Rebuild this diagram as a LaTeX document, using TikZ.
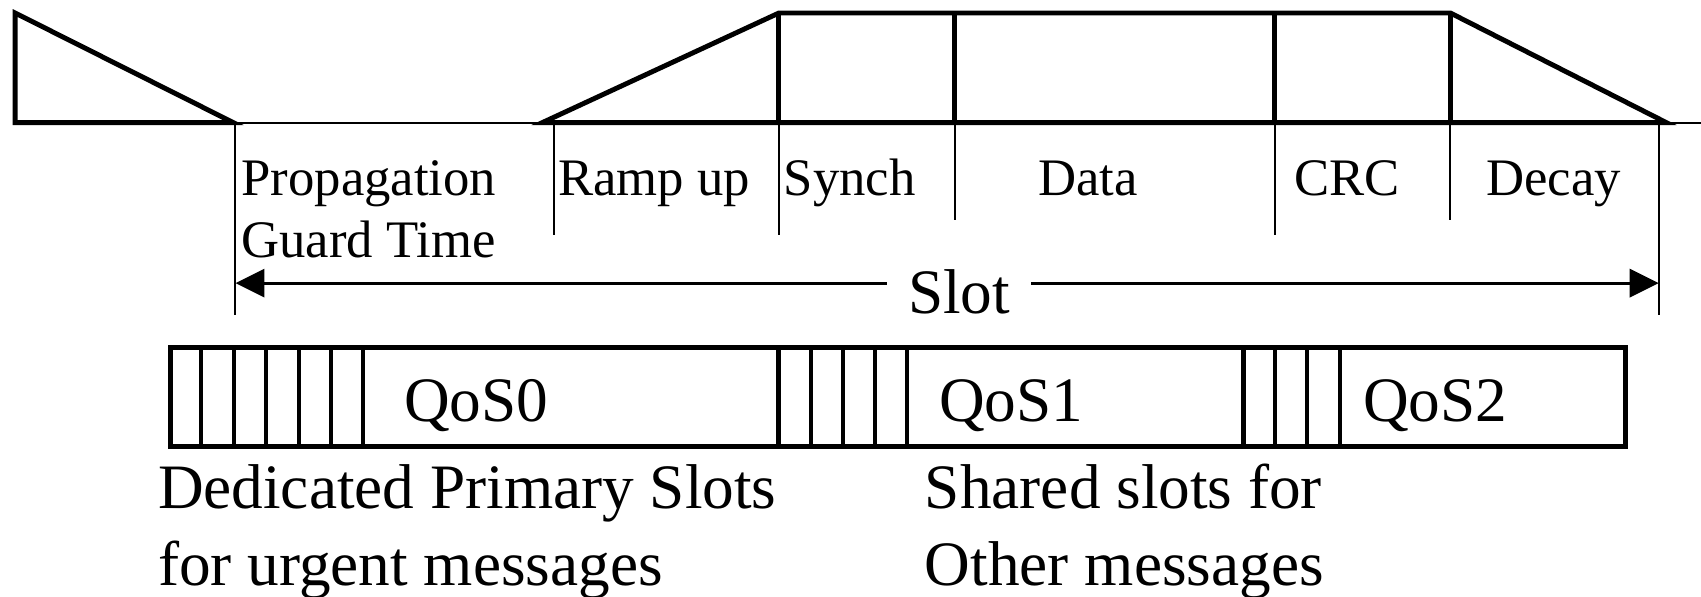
\documentclass[tikz,border=0pt]{standalone}
\usepackage{fontspec}
\setmainfont{Liberation Serif}
\usetikzlibrary{arrows.meta}

\begin{document}
\begin{tikzpicture}[x=0.010848cm,y=-0.010848cm,
  frame/.style={line width=1.4pt},
  tick/.style={line width=0.6pt},
  slotline/.style={line width=1.15pt},
  small/.style={font=\fontsize{15}{18}\selectfont,inner sep=0pt,anchor=base west},
  large/.style={font=\fontsize{18}{22}\selectfont,inner sep=0pt,anchor=base west},
  slotarrow/.style={line width=0.9pt,-{Triangle[length=2.9mm,width=2.8mm]}}]
\useasboundingbox (0,0) rectangle (1568,550);
% burst on the time axis
\draw[frame] (14,12) -- (14,113) -- (215,113) -- cycle;
\draw[tick] (215,113) -- (500,113);
\draw[frame] (500,113) -- (718,12) -- (1337,12) -- (1536,113) -- cycle;
\foreach \x in {718,880,1175,1337} \draw[frame] (\x,12) -- (\x,113);
\draw[tick] (1536,113) -- (1568,113);
\foreach \x/\e in {217/290,511/217,718/217,880/203,1175/217,1337/203,1529/290}
  \draw[tick] (\x,113) -- (\x,\e);
% field names
\node[small] (prop) at (222,180) {Propagation};
\node[small] (guard) at (222,237) {Guard Time};
\node[small] (ramp) at (514,180) {Ramp up};
\node[small] (synch) at (722,180) {Synch};
\node[small,anchor=base] (data) at (1003,180) {Data};
\node[small,anchor=base] (crc) at (1242,180) {CRC};
\node[small,anchor=base] (decay) at (1432,180) {Decay};
% slot length
\coordinate (gl) at (217,261);
\coordinate (gr) at (1529,261);
\node[large,anchor=base,inner xsep=5.8pt] (slot) at (884,289) {Slot};
\draw[slotarrow] (slot.west |- gl) -- (gl);
\draw[slotarrow] (slot.east |- gr) -- (gr);
% QoS frame
\draw[frame] (157,320) rectangle (1498,412);
\foreach \x in {718,1146} \draw[frame] (\x,320) -- (\x,412);
\foreach \i in {0,...,5} \draw[slotline] (185.5+29.9*\i,320) -- ++(0,92);
\foreach \i in {0,...,3} \draw[slotline] (747.3+29.5*\i,320) -- ++(0,92);
\foreach \i in {0,...,2} \draw[slotline] (1175+30*\i,320) -- ++(0,92);
\node[large] (qos0) at (372,389) {QoS0};
\node[large] (qos1) at (865,389) {QoS1};
\node[large] (qos2) at (1256,389) {QoS2};
% captions
\node[large] (ded1) at (145,469) {Dedicated Primary Slots};
\node[large] (ded2) at (145,540) {for urgent messages};
\node[large] (sha1) at (852,469) {Shared slots for};
\node[large] (sha2) at (852,540) {Other messages};
\end{tikzpicture}
\end{document}
